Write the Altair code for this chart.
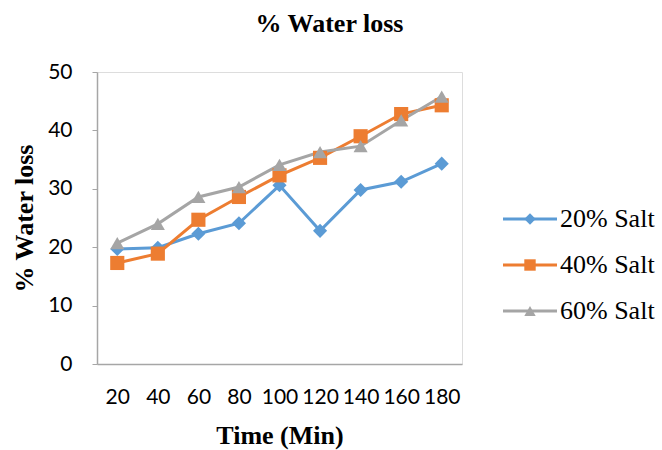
import altair as alt
import pandas as pd

time_min = [20, 40, 60, 80, 100, 120, 140, 160, 180]
salt20 = [19.7, 19.9, 22.3, 24.1, 30.6, 22.8, 29.8, 31.2, 34.3]
salt40 = [17.3, 18.9, 24.7, 28.6, 32.3, 35.3, 39.0, 42.8, 44.3]
salt60 = [20.7, 24.0, 28.6, 30.3, 34.1, 36.3, 37.3, 41.7, 45.8]
series_names = ["20% Salt", "40% Salt", "60% Salt"]
colors = ["#5B9BD5", "#ED7D31", "#A5A5A5"]
shapes = ["diamond", "square", "triangle-up"]

rows = []
for name, vals in zip(series_names, [salt20, salt40, salt60]):
    for t, v in zip(time_min, vals):
        rows.append({"time": t, "value": v, "series": name})
df = pd.DataFrame(rows)
legend_df = pd.DataFrame({"series": series_names})

x_enc = alt.X(
    "time:O",
    scale=alt.Scale(type="point", padding=0.5),
    axis=alt.Axis(
        title="Time (Min)", titleFont="Liberation Serif", titleFontSize=26,
        titleFontWeight="bold", titleColor="black", titlePadding=15,
        labelFont="Lato", labelFontSize=21, labelColor="black", labelAngle=0,
        labelOverlap=False, labelFlush=False, labelPadding=22, ticks=False,
        domainColor="#A6A6A6", domainWidth=1.5, grid=False,
    ),
)
y_enc = alt.Y(
    "value:Q",
    scale=alt.Scale(domain=[0, 50], nice=False),
    axis=alt.Axis(
        title="% Water loss", titleFont="Liberation Serif", titleFontSize=26,
        titleFontWeight="bold", titleColor="black", titlePadding=10,
        labelFont="Lato", labelFontSize=21, labelColor="black",
        labelPadding=20, values=[0, 10, 20, 30, 40, 50], tickSize=5,
        tickColor="#A6A6A6", domainColor="#A6A6A6", domainWidth=1.5, grid=False,
    ),
)

color_scale = alt.Scale(domain=series_names, range=colors)
shape_scale = alt.Scale(domain=series_names, range=shapes)

lines = alt.Chart(df).mark_line(strokeWidth=3).encode(
    x=x_enc,
    y=y_enc,
    color=alt.Color("series:N", scale=color_scale, legend=None),
)

points = alt.Chart(df).mark_point(filled=True, opacity=1, size=200).encode(
    x=x_enc,
    y=y_enc,
    color=alt.Color("series:N", scale=color_scale, legend=None),
    shape=alt.Shape("series:N", scale=shape_scale, legend=None),
)

plot_layer = alt.layer(lines, points)

# legend drawn from the series list, placed to the right of the plot
legend_y = alt.Y("series:N", scale=alt.Scale(type="point", domain=series_names,
                                            range=[147, 239], padding=0), axis=None)

leg_lines = alt.Chart(legend_df).mark_rule(strokeWidth=3).encode(
    x=alt.value(406), x2=alt.value(460), y=legend_y,
    color=alt.Color("series:N", scale=color_scale, legend=None),
)
leg_points = alt.Chart(legend_df).mark_point(filled=True, opacity=1, size=130).encode(
    x=alt.value(433), y=legend_y,
    color=alt.Color("series:N", scale=color_scale, legend=None),
    shape=alt.Shape("series:N", scale=shape_scale, legend=None),
)
leg_text = alt.Chart(legend_df).mark_text(
    align="left", baseline="middle", font="Liberation Serif", fontSize=26, color="black"
).encode(
    x=alt.value(463), y=legend_y, text="series:N",
)

legend_layer = alt.layer(leg_lines, leg_points, leg_text)

chart = alt.layer(plot_layer, legend_layer).resolve_scale(
    y="independent"
).properties(
    width=365, height=292,
    padding={"left": 97, "top": 72, "right": 200, "bottom": 86},
    autosize="none",
    title=alt.Title("% Water loss", font="Liberation Serif", fontSize=26,
                    fontWeight="bold", color="black", frame="group",
                    anchor="middle", dx=50, offset=24),
).configure_view(stroke=None).configure(background="white")

chart.save("out.html", embed_options={"renderer": "svg", "actions": False})
